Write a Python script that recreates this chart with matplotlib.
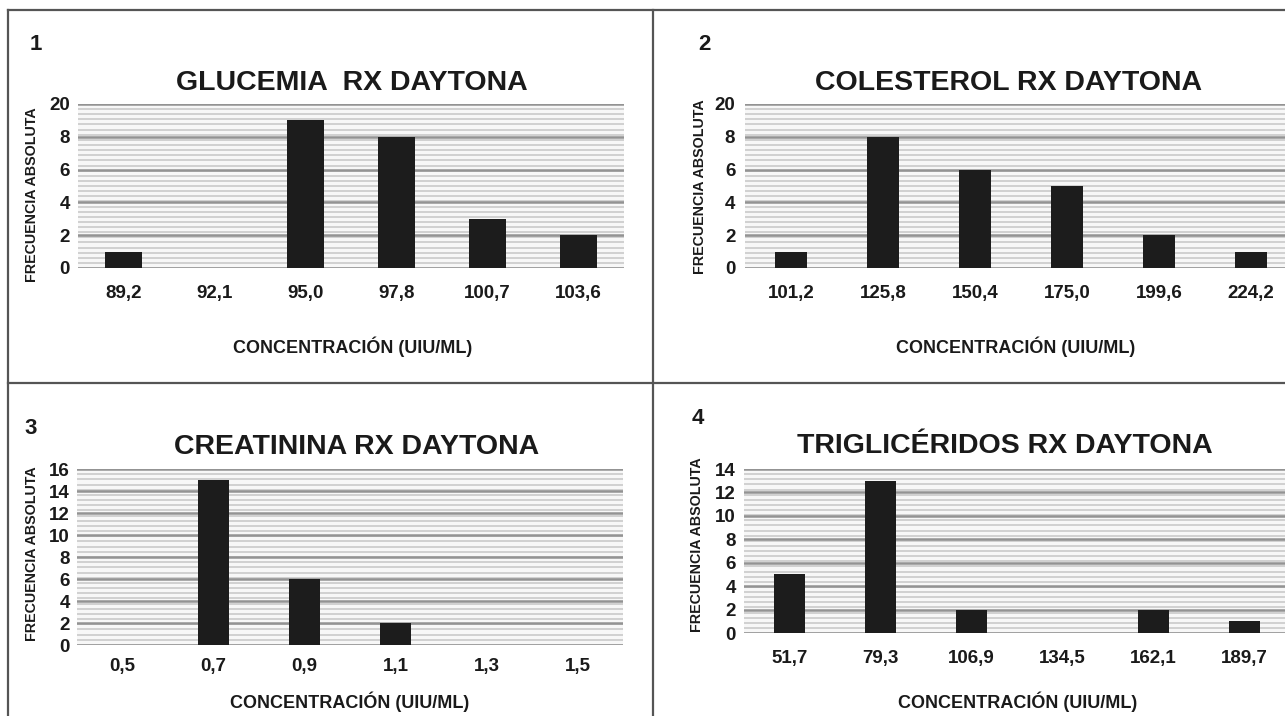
import matplotlib
matplotlib.use("Agg")
import matplotlib.pyplot as plt
import numpy as np
from matplotlib import font_manager
from matplotlib.lines import Line2D

# --- Datos ---
glucemia_labels = ['89,2', '92,1', '95,0', '97,8', '100,7', '103,6']
glucemia_freq = [1, 0, 9, 8, 3, 2]

colesterol_labels = ['101,2', '125,8', '150,4', '175,0', '199,6', '224,2']
colesterol_freq = [1, 8, 6, 5, 2, 1]

creatinina_labels = ['0,5', '0,7', '0,9', '1,1', '1,3', '1,5']
creatinina_freq = [0, 15, 6, 2, 0, 0]

trigliceridos_labels = ['51,7', '79,3', '106,9', '134,5', '162,1', '189,7']
trigliceridos_freq = [5, 13, 2, 0, 2, 1]

# eje y: en los graficos 1 y 2 la ultima marca dice "20"
yticks_10 = [0, 2, 4, 6, 8, 10]
ylabels_10 = ['0', '2', '4', '6', '8', '20']
yticks_16 = [0, 2, 4, 6, 8, 10, 12, 14, 16]
yticks_14 = [0, 2, 4, 6, 8, 10, 12, 14]

titles = ['GLUCEMIA  RX DAYTONA', 'COLESTEROL RX DAYTONA',
          'CREATININA RX DAYTONA', 'TRIGLICÉRIDOS RX DAYTONA']


def pick(fams):
    for f in fams:
        try:
            font_manager.findfont(f, fallback_to_default=False)
            return f
        except ValueError:
            continue
    return 'DejaVu Sans'


NARROW = pick(['Liberation Sans Narrow', 'Liberation Sans'])
WIDE = pick(['Liberation Sans', 'DejaVu Sans'])

W, H = 1285, 716
fig = plt.figure(figsize=(W / 100, H / 100), dpi=100)


def fx(x):
    return x / W


def fy(y):
    return 1 - y / H


def txt(x, y, s, size, family=NARROW, **kw):
    fig.text(fx(x), fy(y), s, fontsize=size, fontweight='bold',
             family=family, ha='center', va='center', color='#1a1a1a', **kw)


# --- Marcos ---
for (x0, y0, x1, y1) in [(8, 10, W, 10), (8, 10, 8, H), (653, 10, 653, H),
                         (8, 383, W, 383)]:
    fig.add_artist(Line2D([fx(x0), fx(x1)], [fy(y0), fy(y1)],
                          transform=fig.transFigure, color='#555555', lw=1.6))


def panel(left, right, top, bottom, labels, freq, yticks, ylabels, width,
          xpad, ypad):
    ax = fig.add_axes([fx(left), fy(bottom), (right - left) / W,
                       (bottom - top) / H])
    ymax = yticks[-1]
    ax.set_xlim(-0.5, len(labels) - 0.5)
    ax.set_ylim(0, ymax)
    ax.set_facecolor('#f7f7f7')
    # textura de lineas finas del fondo
    n = int(round((bottom - top) / 5.2))
    for yv in np.linspace(0, ymax, n + 1):
        ax.axhline(yv, color='#cdcdcd', lw=1.3, zorder=1)
    for yv in yticks:
        ax.axhline(yv, color='#939393', lw=1.8, zorder=2)
    x = np.arange(len(labels))
    ax.bar(x, freq, width=width, color='#1c1c1c', zorder=3)
    ax.set_xticks(x, labels)
    ax.set_yticks(yticks, ylabels)
    for s in ax.spines.values():
        s.set_visible(False)
    ax.tick_params(length=0)
    ax.tick_params(axis='x', pad=xpad)
    ax.tick_params(axis='y', pad=ypad)
    for t in ax.get_xticklabels() + ax.get_yticklabels():
        t.set_fontfamily(NARROW)
        t.set_fontweight('bold')
        t.set_fontsize(13.5)
        t.set_color('#1a1a1a')
    return ax


panel(78, 624, 104, 268, glucemia_labels, glucemia_freq, yticks_10, ylabels_10,
      0.41, 12, 6)
panel(745, 1297, 104, 268, colesterol_labels, colesterol_freq, yticks_10,
      ylabels_10, 0.34, 12, 7)
panel(77, 623, 469, 645, creatinina_labels, creatinina_freq, yticks_16,
      [str(v) for v in yticks_16], 0.34, 9.5, 5)
panel(744, 1290, 469, 633, trigliceridos_labels, trigliceridos_freq, yticks_14,
      [str(v) for v in yticks_14], 0.34, 12, 6)

# --- Textos ---
for (nx, ny, num) in [(36, 45, '1'), (704, 45, '2'), (31, 429, '3'), (698, 418, '4')]:
    txt(nx, ny, num, 16)

for (tx, ty, t) in [(352, 83, titles[0]), (1009, 83, titles[1]),
                    (357, 447, titles[2]), (1005, 446, titles[3])]:
    txt(tx, ty, t, 20.5)

for (lx, ly) in [(353, 347), (1016, 347), (350, 702), (1018, 702)]:
    txt(lx, ly, 'CONCENTRACIÓN (UIU/ML)', 13)

for (yx, yy) in [(32, 195), (700, 187), (32, 554), (697, 545)]:
    txt(yx, yy, 'FRECUENCIA ABSOLUTA', 10.3, family=WIDE, rotation=90)

fig.savefig('out.png', dpi=100)
